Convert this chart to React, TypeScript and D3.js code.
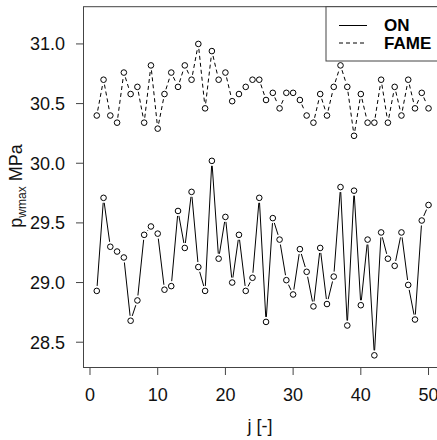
import React from "react";
import * as d3 from "d3";

const jValues: number[] = d3.range(1, 51);
const onValues: number[] = [
  28.93, 29.71, 29.30, 29.26, 29.21, 28.68, 28.85, 29.40, 29.47, 29.41,
  28.94, 28.97, 29.60, 29.29, 29.76, 29.13, 28.93, 30.02, 29.20, 29.55,
  29.00, 29.40, 28.93, 29.04, 29.71, 28.67, 29.54, 29.36, 29.02, 28.90,
  29.28, 29.09, 28.80, 29.29, 28.82, 29.05, 29.80, 28.64, 29.77, 28.81,
  29.36, 28.39, 29.42, 29.20, 29.14, 29.42, 28.98, 28.69, 29.52, 29.65,
];
const fameValues: number[] = [
  30.40, 30.70, 30.40, 30.34, 30.76, 30.58, 30.64, 30.34, 30.82, 30.29,
  30.58, 30.76, 30.64, 30.82, 30.70, 31.00, 30.46, 30.94, 30.70, 30.76,
  30.52, 30.58, 30.64, 30.70, 30.70, 30.53, 30.59, 30.46, 30.59, 30.59,
  30.53, 30.40, 30.34, 30.58, 30.40, 30.64, 30.82, 30.64, 30.23, 30.58,
  30.34, 30.34, 30.70, 30.34, 30.64, 30.40, 30.70, 30.46, 30.59, 30.46,
];
const xTicks: number[] = [0, 10, 20, 30, 40, 50];
const yTicks: number[] = [28.5, 29.0, 29.5, 30.0, 30.5, 31.0];
const legendLabels: string[] = ["ON", "FAME"];

const FONT = "'Liberation Sans', Arial, sans-serif";

function Series({ xs, ys, x, y, dash }: any) {
  const pts = xs.map((j: number, i: number) => [x(j), y(ys[i])]);
  const gap = 5;
  const segs: any[] = [];
  for (let i = 0; i < pts.length - 1; i++) {
    const [x1, y1] = pts[i];
    const [x2, y2] = pts[i + 1];
    const dx = x2 - x1, dy = y2 - y1;
    const len = Math.hypot(dx, dy);
    if (len <= 2 * gap) continue;
    const ux = dx / len, uy = dy / len;
    segs.push(
      <line
        key={i}
        x1={x1 + ux * gap}
        y1={y1 + uy * gap}
        x2={x2 - ux * gap}
        y2={y2 - uy * gap}
        stroke="#000"
        strokeWidth={1}
        strokeDasharray={dash}
      />
    );
  }
  return (
    <g>
      {segs}
      {pts.map((p: number[], i: number) => (
        <circle key={"c" + i} cx={p[0]} cy={p[1]} r={2.8} fill="#fff" stroke="#000" strokeWidth={1} />
      ))}
    </g>
  );
}

export default function App() {
  const W = 437, H = 440;
  const left = 83.5, right = 441.8, top = 6.7, bottom = 367.5;
  const x = d3.scaleLinear().domain([-0.96, 51.96]).range([left, right]);
  const y = d3.scaleLinear().domain([28.288, 31.312]).range([bottom, top]);
  const axisColor = "#444";

  return (
    <svg width={W} height={H} style={{ position: "absolute", left: 0, top: 0 }} fontFamily={FONT}>
      <rect x={0} y={0} width={W} height={H} fill="#fff" />
      {/* plot box */}
      <rect x={left} y={top} width={right - left} height={bottom - top} fill="none" stroke={axisColor} strokeWidth={1} />
      {/* x axis */}
      <line x1={x(xTicks[0])} x2={x(xTicks[xTicks.length - 1])} y1={bottom} y2={bottom} stroke={axisColor} />
      {xTicks.map((t) => (
        <g key={"x" + t}>
          <line x1={x(t)} x2={x(t)} y1={bottom} y2={bottom + 7.5} stroke={axisColor} />
          <text x={x(t)} y={400.5} textAnchor="middle" fontSize={18} fill="#111">
            {t}
          </text>
        </g>
      ))}
      {/* y axis */}
      {yTicks.map((t) => (
        <g key={"y" + t}>
          <line x1={left - 7.5} x2={left} y1={y(t)} y2={y(t)} stroke={axisColor} />
          <text x={65} y={y(t)} dy="0.35em" textAnchor="end" fontSize={18} fill="#111">
            {t.toFixed(1)}
          </text>
        </g>
      ))}
      {/* axis titles */}
      <text x={260} y={432} textAnchor="middle" fontSize={18} fill="#111">
        j [-]
      </text>
      <text transform="translate(22,186) rotate(-90)" textAnchor="middle" fontSize={18} fill="#111">
        <tspan>p</tspan>
        <tspan fontSize={12} dy={4}>wmax</tspan>
        <tspan dy={-4}> MPa</tspan>
      </text>
      {/* series */}
      <Series xs={jValues} ys={fameValues} x={x} y={y} dash="4,3" />
      <Series xs={jValues} ys={onValues} x={x} y={y} dash={null} />
      {/* legend */}
      <rect x={326} y={top} width={right - 326} height={61 - top} fill="#fff" stroke={axisColor} strokeWidth={1} />
      {legendLabels.map((lab, i) => (
        <g key={lab}>
          <line x1={339} x2={367} y1={25.5 + i * 17.5} y2={25.5 + i * 17.5} stroke="#000" strokeDasharray={i === 1 ? "4,3" : undefined} />
          <text x={384} y={31 + i * 17.5} fontSize={17} fontWeight="bold" fill="#000">
            {lab}
          </text>
        </g>
      ))}
    </svg>
  );
}
